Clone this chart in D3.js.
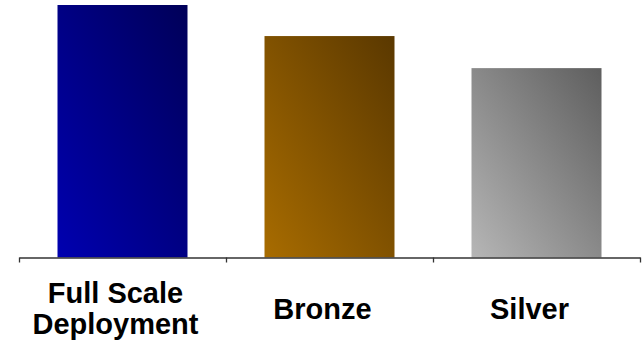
<!DOCTYPE html>
<html>
<head>
<meta charset="utf-8">
<title>Deployment options</title>
<script src="https://d3js.org/d3.v7.min.js"></script>
<style>
  body { margin: 0; background: #fff; }
  .label text { font: bold 29px "Liberation Sans", Arial, sans-serif; fill: #000; text-anchor: middle; }
</style>
</head>
<body>
<svg id="chart" width="643" height="342"></svg>
<script>
// data
var categories = ["Full Scale Deployment", "Bronze", "Silver"];
var labelLines = [["Full Scale", "Deployment"], ["Bronze"], ["Silver"]];
var values = [100, 87.7, 75];
var gradientStops = [
  ["#0000b0", "#000058"],
  ["#a86c00", "#5a3800"],
  ["#b6b6b6", "#5e5e5e"]
];

var width = 643, height = 342;
var left = 19, right = 640, baseY = 257.5, topY = 5;

var svg = d3.select("#chart");

// gradients, lighter bottom-left to darker top-right
var defs = svg.append("defs");
categories.forEach(function(c, i) {
  var g = defs.append("linearGradient")
      .attr("id", "grad" + i)
      .attr("x1", 0).attr("y1", 1)
      .attr("x2", 1).attr("y2", 0);
  g.append("stop").attr("offset", "0%").attr("stop-color", gradientStops[i][0]);
  g.append("stop").attr("offset", "100%").attr("stop-color", gradientStops[i][1]);
});

var x = d3.scaleBand()
    .domain(categories)
    .range([left, right])
    .paddingInner(0.372)
    .paddingOuter(0.186);

var y = d3.scaleLinear()
    .domain([0, 100])
    .range([baseY, topY]);

// bars
svg.selectAll(".bar")
    .data(values)
  .enter().append("rect")
    .attr("class", "bar")
    .attr("x", function(d, i) { return x(categories[i]); })
    .attr("y", function(d) { return y(d); })
    .attr("width", x.bandwidth())
    .attr("height", function(d) { return baseY - y(d); })
    .style("fill", function(d, i) { return "url(#grad" + i + ")"; });

// axis with ticks on the category boundaries
var xb = d3.scaleLinear().domain([0, categories.length]).range([left, right]);
var axis = svg.append("g")
    .attr("transform", "translate(0," + baseY + ")")
    .call(d3.axisBottom(xb)
      .tickValues(d3.range(categories.length + 1))
      .tickSize(5)
      .tickSizeOuter(0)
      .tickFormat(""));
axis.select(".domain").attr("stroke", "#333").attr("stroke-width", 1.3);
axis.selectAll(".tick line").attr("stroke", "#333").attr("stroke-width", 1.3);

// category labels
var lab = svg.append("g").attr("class", "label");
lab.selectAll("text")
    .data(labelLines)
  .enter().append("text")
    .attr("x", function(d, i) { return x(categories[i]) + x.bandwidth() / 2 - 7; })
    .attr("y", function(d) { return d.length > 1 ? 302.5 : 319; })
    .each(function(d) {
      var t = d3.select(this);
      d.forEach(function(line, j) {
        t.append("tspan")
          .attr("x", t.attr("x"))
          .attr("dy", j === 0 ? 0 : 31.5)
          .text(line);
      });
    });
</script>
</body>
</html>
